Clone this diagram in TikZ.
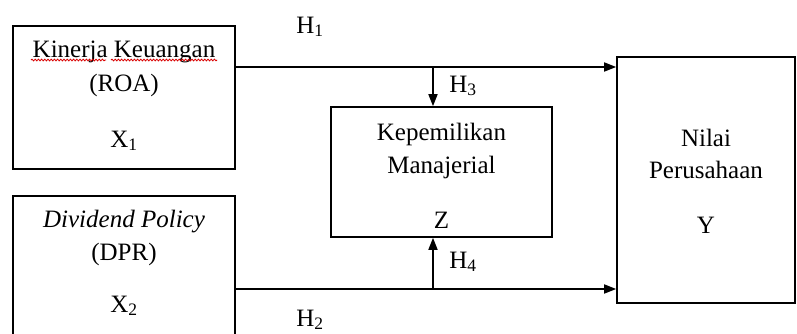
\documentclass[tikz,border=0pt]{standalone}
\usepackage{fontspec}
\setmainfont{Liberation Serif}
\usetikzlibrary{arrows.meta,decorations.pathmorphing}

\tikzset{
  box/.style={draw, line width=1.6pt, rectangle, inner sep=0pt},
  link/.style={line width=1.6pt, -{Triangle[length=12pt,width=9pt]}},
  txt/.style={anchor=base, inner sep=0pt, font=\fontsize{25}{30}\selectfont},
  spell/.style={red!85!black, line width=0.8pt, decorate,
    decoration={snake, amplitude=0.9pt, segment length=3.2pt}}
}

\begin{document}
\begin{tikzpicture}[x=1pt, y=-1pt]
  \useasboundingbox (0,0) rectangle (797,333);
  \clip (0,0) rectangle (797,333);
  \fill[white] (0,0) rectangle (797,333);

  % the four variable boxes
  \node[box, minimum width=222pt, minimum height=143pt] (X1) at (124,97.5) {};
  \node[box, minimum width=222pt, minimum height=149pt] (X2) at (124,270.5) {};
  \node[box, minimum width=221pt, minimum height=130pt] (Z)  at (441.5,172) {};
  \node[box, minimum width=178pt, minimum height=246pt] (Y)  at (706,180) {};

  % box texts
  \node[txt] (t11) at (124,57) {Kinerja Keuangan};
  \node[txt] (t12) at (124,91) {(ROA)};
  \node[txt] (t13) at (124,147) {X\textsubscript{1}};
  \draw[spell] (31,60) -- (106,60);
  \draw[spell] (111,60) -- (217,60);

  \node[txt] (t21) at (124,227) {\itshape Dividend Policy};
  \node[txt] (t22) at (124,260) {(DPR)};
  \node[txt] (t23) at (124,312) {X\textsubscript{2}};

  \node[txt] (t31) at (441.5,140) {Kepemilikan};
  \node[txt] (t32) at (441.5,173) {Manajerial};
  \node[txt] (t33) at (441.5,228) {Z};

  \node[txt] (t41) at (706,146) {Nilai};
  \node[txt] (t42) at (706,178) {Perusahaan};
  \node[txt] (t43) at (706,233) {Y};

  % connector rows and junctions
  \coordinate (r1) at (0,67);
  \coordinate (r2) at (0,289);
  \coordinate (j1) at (433,67);
  \coordinate (j2) at (433,289);

  \draw[link] (X1.east |- r1) -- (Y.west |- r1);
  \draw[link] (X2.east |- r2) -- (Y.west |- r2);
  \draw[link] (j1) -- (j1 |- Z.north);
  \draw[link] (j2) -- (j2 |- Z.south);

  % hypothesis labels
  \node[txt] (h1) at (310,33) {H\textsubscript{1}};
  \node[txt] (h2) at (310,326) {H\textsubscript{2}};
  \node[txt] (h3) at (463,92) {H\textsubscript{3}};
  \node[txt] (h4) at (463,268) {H\textsubscript{4}};
\end{tikzpicture}
\end{document}
